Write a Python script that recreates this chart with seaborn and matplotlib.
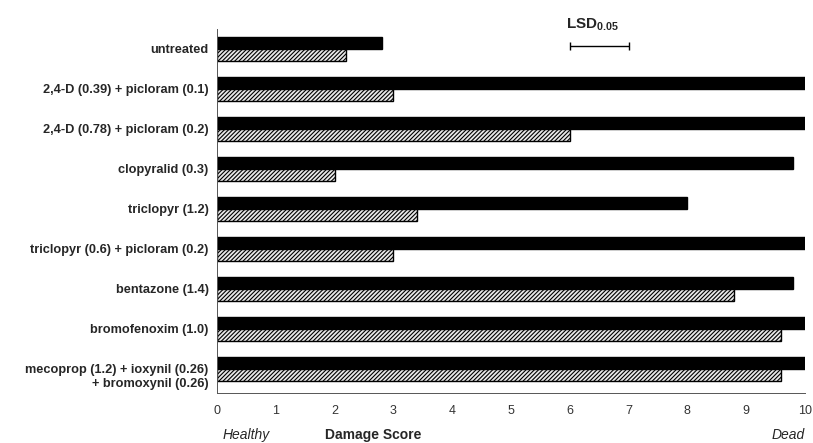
import numpy as np
import pandas as pd
import matplotlib
matplotlib.use("Agg")
import matplotlib.pyplot as plt
import matplotlib.transforms as mtransforms
import seaborn as sns

treatments = [
    "untreated",
    "2,4-D (0.39) + picloram (0.1)",
    "2,4-D (0.78) + picloram (0.2)",
    "clopyralid (0.3)",
    "triclopyr (1.2)",
    "triclopyr (0.6) + picloram (0.2)",
    "bentazone (1.4)",
    "bromofenoxim (1.0)",
    "mecoprop (1.2) + ioxynil (0.26)\n+ bromoxynil (0.26)",
]
series_names = ["solid", "hatched"]
solid_scores = [2.8, 10.0, 10.0, 9.8, 8.0, 10.0, 9.8, 10.0, 10.0]
hatched_scores = [2.2, 3.0, 6.0, 2.0, 3.4, 3.0, 8.8, 9.6, 9.6]
x_ticks = list(range(0, 11))
lsd_start = 6.0
lsd_value = 1.0

df = pd.DataFrame({
    "treatment": treatments * 2,
    "series": [series_names[0]] * len(treatments) + [series_names[1]] * len(treatments),
    "score": solid_scores + hatched_scores,
})

sns.set_style("white")
plt.rcParams["font.family"] = ["Liberation Sans", "DejaVu Sans"]
plt.rcParams["hatch.linewidth"] = 0.8
plt.rcParams["mathtext.fontset"] = "custom"
plt.rcParams["mathtext.bf"] = "Liberation Sans:bold"
plt.rcParams["mathtext.rm"] = "Liberation Sans"

fig = plt.figure(figsize=(8.13, 4.43), dpi=100)
ax = fig.add_axes([0.267, 0.113, 0.723, 0.822])

sns.barplot(data=df, y="treatment", x="score", hue="series", order=treatments,
            hue_order=series_names, palette=["black", "#e8e8e8"], orient="h",
            width=0.6, gap=0, edgecolor="black", linewidth=1.0, legend=False, ax=ax)

for patch in ax.containers[1]:
    patch.set_hatch("////////")

ax.set_xlim(0, 10)
ax.set_ylim(8.6, -0.5)
ax.set_xticks(x_ticks)
ax.set_xticklabels([str(t) for t in x_ticks], fontsize=9, color="#333333")
ax.tick_params(axis="x", direction="out", length=3, width=0.6, color="#555555", pad=6)
ax.tick_params(axis="y", length=0, pad=6)
for lbl in ax.get_yticklabels():
    lbl.set_fontweight("bold")
    lbl.set_fontsize(9.2)
# the two-line label sits a little below its bars
last = ax.get_yticklabels()[-1]
last.set_transform(last.get_transform()
                   + mtransforms.ScaledTranslation(0, -0.06, fig.dpi_scale_trans))
ax.set_xlabel("")
ax.set_ylabel("")
sns.despine(ax=ax, top=True, right=True)
for side in ["left", "bottom"]:
    ax.spines[side].set_color("#555555")
    ax.spines[side].set_linewidth(0.7)

# LSD bar
ax.errorbar(lsd_start + lsd_value / 2, -0.08, xerr=lsd_value / 2, fmt="none",
            ecolor="black", elinewidth=1.0, capsize=3, capthick=1.0, clip_on=False)
ax.text(lsd_start - 0.06, -0.6, r"$\mathbf{LSD_{0.05}}$", fontsize=11,
        ha="left", va="center", clip_on=False)

# axis annotations
ax.text(2.65, -0.115, "Damage Score", transform=ax.get_xaxis_transform(),
        ha="center", va="center", fontsize=10, fontweight="bold")
ax.text(0.5, -0.115, "Healthy", transform=ax.get_xaxis_transform(),
        ha="center", va="center", fontsize=10, fontstyle="italic")
ax.text(10.0, -0.115, "Dead", transform=ax.get_xaxis_transform(),
        ha="right", va="center", fontsize=10, fontstyle="italic")

fig.savefig("out.png", dpi=100)
